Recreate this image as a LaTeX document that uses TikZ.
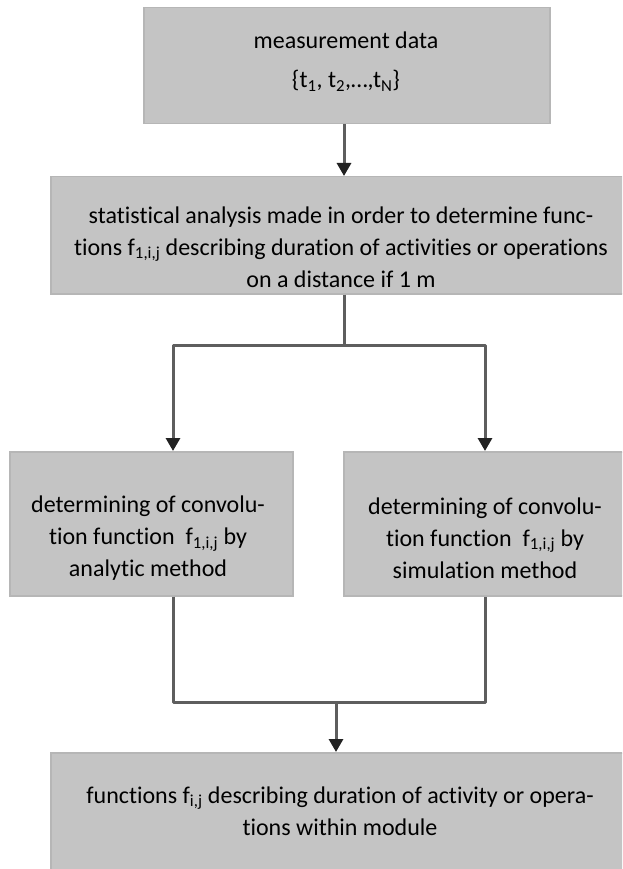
\documentclass[tikz,border=0pt]{standalone}
\usepackage{fontspec}
\setmainfont{Carlito}[RawFeature={-liga;-clig;-calt;-dlig}]
\usetikzlibrary{arrows.meta}
\definecolor{boxfill}{HTML}{C4C4C4}
\definecolor{boxline}{HTML}{B6B6B6}
\definecolor{conncol}{HTML}{5E5E5E}
\definecolor{tipcol}{HTML}{222222}
\newcommand\Ti{t\kern0pt i}
\begin{document}
\begin{tikzpicture}[x=1pt,y=-1pt,
  box/.style={draw=boxline,fill=boxfill,line width=1.5pt,inner sep=0pt,anchor=north west},
  txt/.style={align=center,inner sep=0pt,font=\fontsize{24}{32}\selectfont},
  conn/.style={draw=conncol,line width=3pt,line join=round},
  arr/.style={conn,-{Triangle[width=14pt,length=13pt,color=tipcol]}}]
\useasboundingbox (0,0) rectangle (622,869);
\clip (0,0) rectangle (622,869);
% boxes
\node[box,minimum width=406pt,minimum height=116pt] (top) at (143,7) {};
\node[box,minimum width=582pt,minimum height=117pt] (stat) at (50,176) {};
\node[box,minimum width=283pt,minimum height=144pt] (left) at (9,451) {};
\node[box,minimum width=284pt,minimum height=144pt] (right) at (343,451) {};
\node[box,minimum width=582pt,minimum height=120pt] (bot) at (50,752) {};
% texts
\node[txt] (ttop) at (346,62) {measurement data\\[7pt]\{t\textsubscript{1}, t\textsubscript{2},…,t\textsubscript{N}\}};
\node[txt] (tstat) at (341,247) {sta\Ti s\Ti cal analysis made in order to determine func-\\\Ti ons f\textsubscript{1,i,j} describing dura\Ti on of ac\Ti vi\Ti es or opera\Ti ons\\on a distance if 1 m};
\node[txt] (tleft) at (148,538) {determining of convolu-\\\Ti on func\Ti on\ \ f\textsubscript{1,i,j} by\\analy\Ti c method};
\node[txt] (tright) at (485,538) {determining of convolu-\\\Ti on func\Ti on\ \ f\textsubscript{1,i,j} by\\simula\Ti on method};
\node[txt] (tbot) at (340,811) {func\Ti ons f\textsubscript{i,j} describing dura\Ti on of ac\Ti vity or opera-\\\Ti ons within module};
% connector guides
\coordinate (cx) at (344,0);
\coordinate (lx) at (173,0);
\coordinate (rx) at (485,0);
\coordinate (mx) at (336,0);
\coordinate (split) at (344,345);
\coordinate (join) at (336,702);
% connectors
\draw[arr] (top.south -| cx) -- (stat.north -| cx);
\draw[conn] (stat.south -| cx) -- (split);
\draw[arr] (split) -| (left.north -| lx);
\draw[arr] (split) -| (right.north -| rx);
\draw[conn] (left.south -| lx) |- (join) -| (right.south -| rx);
\draw[arr] (join) -- (bot.north -| mx);
\end{tikzpicture}
\end{document}
